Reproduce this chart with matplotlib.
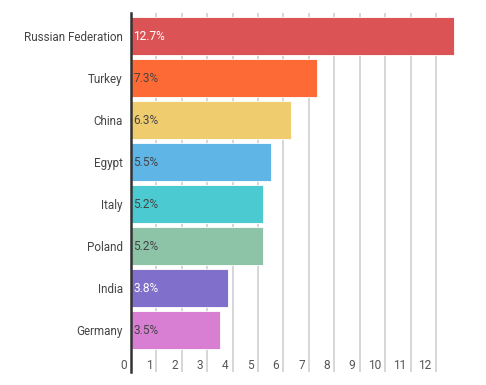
import matplotlib.pyplot as plt

plt.rcParams['font.family'] = ['Roboto', 'DejaVu Sans']

countries = ['Russian Federation', 'Turkey', 'China', 'Egypt', 'Italy',
             'Poland', 'India', 'Germany']
shares = [12.7, 7.3, 6.3, 5.5, 5.2, 5.2, 3.8, 3.5]
colors = ['#dc5356', '#fe6a35', '#efcc6e', '#5eb5e6', '#4bcbd1',
          '#8dc3a6', '#8070cc', '#d87fd4']
label_colors = ['white', '#444444', '#444444', '#444444', '#444444',
                '#444444', 'white', '#444444']
x_ticks = list(range(0, 13))

fig = plt.figure(figsize=(4.86, 3.85), dpi=100)
ax = fig.add_axes([131 / 486, 1 - 372 / 385, 324 / 486, 359 / 385])

ypos = list(range(len(countries)))

# gridlines behind bars
for t in x_ticks[1:]:
    ax.axvline(t, color='#cccccc', lw=1.1, zorder=0)

ax.barh(ypos, shares, height=0.9, color=colors, edgecolor='white',
        linewidth=0.6, zorder=2)

for y, v, c in zip(ypos, shares, label_colors):
    ax.annotate(f'{v}%', (0, y), xytext=(1.5, 0), textcoords='offset points',
                ha='left', va='center', fontsize=8.6, color=c, zorder=3)

# tick labels sit at the bottom, left of each gridline
for t in x_ticks:
    ax.annotate(str(t), (t, 8.0), xytext=(-3, 4.5), textcoords='offset points',
                ha='right', va='center', fontsize=8.6, color='#555555')

ax.set_xlim(0, 12.75)
ax.set_ylim(8.0, -0.55)
ax.set_yticks(ypos)
ax.set_yticklabels(countries, fontsize=8.4, color='#444444')
ax.set_xticks([])
ax.tick_params(axis='y', length=0, pad=6)

for s in ['top', 'right', 'bottom']:
    ax.spines[s].set_visible(False)
ax.spines['left'].set_color('#333333')
ax.spines['left'].set_linewidth(1.8)
ax.spines['left'].set_zorder(4)

fig.savefig('out.png', dpi=100)
